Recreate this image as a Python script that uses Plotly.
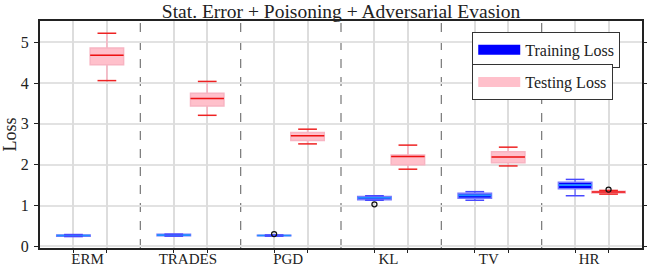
import plotly.graph_objects as go

categories = ["ERM", "TRADES", "PGD", "KL", "TV", "HR"]

train_lf = [0.24, 0.25, 0.25, 1.13, 1.13, 1.24]
train_q1 = [0.25, 0.26, 0.258, 1.14, 1.18, 1.41]
train_med = [0.265, 0.275, 0.265, 1.19, 1.25, 1.50]
train_q3 = [0.28, 0.295, 0.275, 1.22, 1.30, 1.57]
train_uf = [0.29, 0.30, 0.28, 1.24, 1.34, 1.64]
train_out_cat = ["PGD", "KL"]
train_out_val = [0.30, 1.03]

test_lf = [4.06, 3.21, 2.51, 1.89, 1.97, 1.28]
test_q1 = [4.45, 3.44, 2.59, 2.00, 2.05, 1.31]
test_med = [4.68, 3.62, 2.71, 2.20, 2.19, 1.33]
test_q3 = [4.86, 3.75, 2.79, 2.24, 2.32, 1.35]
test_uf = [5.22, 4.04, 2.87, 2.48, 2.43, 1.37]
test_out_cat = ["HR"]
test_out_val = [1.39]

yticks = [0, 1, 2, 3, 4, 5]

FONT = "Liberation Serif"
DARK = "#222222"

n = len(categories)
train_pos = [3 * i for i in range(n)]
test_pos = [3 * i + 1 for i in range(n)]
sep_pos = [3 * i + 2 for i in range(n - 1)]
label_pos = [3 * i + 0.42 for i in range(n)]

BOXW = 1.0
CAPW = 0.56

series = [
    dict(pos=train_pos, lf=train_lf, q1=train_q1, med=train_med, q3=train_q3, uf=train_uf,
         fill="#0000FF", edge="#7878FF", median="#1E90FF", cap="#4848FF",
         out_cat=train_out_cat, out_val=train_out_val),
    dict(pos=test_pos, lf=test_lf, q1=test_q1, med=test_med, q3=test_q3, uf=test_uf,
         fill="#FFC0CB", edge="#F8B4C2", median="#EE1111", cap="#EE2222",
         out_cat=test_out_cat, out_val=test_out_val),
]

fig = go.Figure()

for s in series:
    fig.add_trace(go.Box(
        x=s["pos"], q1=s["q1"], median=s["med"], q3=s["q3"],
        lowerfence=s["lf"], upperfence=s["uf"],
        width=BOXW, whiskerwidth=0, fillcolor=s["fill"],
        line=dict(color=s["edge"], width=1.5),
        boxpoints=False, showlegend=False, hoverinfo="skip",
        xaxis="x2",
    ))
    mx, my = [], []
    for p, m in zip(s["pos"], s["med"]):
        mx += [p - BOXW / 2, p + BOXW / 2, None]
        my += [m, m, None]
    fig.add_trace(go.Scatter(x=mx, y=my, mode="lines", xaxis="x2",
                             line=dict(color=s["median"], width=1.6),
                             showlegend=False, hoverinfo="skip"))
    cx, cy = [], []
    for p, lo, hi in zip(s["pos"], s["lf"], s["uf"]):
        for v in (lo, hi):
            cx += [p - CAPW / 2, p + CAPW / 2, None]
            cy += [v, v, None]
    fig.add_trace(go.Scatter(x=cx, y=cy, mode="lines", xaxis="x2",
                             line=dict(color=s["cap"], width=1.5),
                             showlegend=False, hoverinfo="skip"))
    ox = [s["pos"][categories.index(c)] for c in s["out_cat"]]
    fig.add_trace(go.Scatter(x=ox, y=s["out_val"], mode="markers", xaxis="x2",
                             marker=dict(symbol="circle-open", size=5, color="#111111",
                                         line=dict(width=1.3)),
                             showlegend=False, hoverinfo="skip"))

fig.add_trace(go.Scatter(x=[None], y=[None], mode="lines", name="Training Loss",
                         line=dict(color="#0000FF", width=10), legend="legend"))
fig.add_trace(go.Scatter(x=[None], y=[None], mode="lines", name="Testing Loss",
                         line=dict(color="#FFC0CB", width=10), legend="legend2"))
fig.add_trace(go.Scatter(x=[label_pos[0]], y=[None], mode="markers", xaxis="x",
                         showlegend=False, hoverinfo="skip"))

shapes = []
for p in sep_pos:
    shapes.append(dict(type="line", xref="x2", yref="paper", x0=p, x1=p, y0=0, y1=1,
                       line=dict(color="#777777", width=1.2, dash="dash"), layer="below"))

xr = [-1, 3 * n - 1]

fig.update_layout(
    width=647, height=267,
    margin=dict(l=40, r=5, t=21, b=19, autoexpand=False),
    paper_bgcolor="white", plot_bgcolor="white",
    font=dict(family=FONT, color=DARK),
    title=dict(text="Stat. Error + Poisoning + Adversarial Evasion",
               x=0.5, xref="paper", xanchor="center",
               y=1 - 4 / 267, yref="container", yanchor="top", automargin=False,
               font=dict(size=19.5, family=FONT, color=DARK)),
    shapes=shapes,
    xaxis=dict(range=xr, tickvals=label_pos, ticktext=categories, showgrid=False,
               zeroline=False, ticks="", tickfont=dict(size=15, family=FONT, color=DARK),
               showline=False, anchor="y", automargin=False),
    xaxis2=dict(range=xr, overlaying="x", anchor="y", side="bottom",
                tickvals=train_pos + test_pos, showticklabels=False, automargin=False,
                showgrid=True, gridcolor="#DDDDDD", gridwidth=1.5, zeroline=False,
                ticks="outside", ticklen=3, tickcolor=DARK, tickwidth=1,
                showline=True, linecolor=DARK, linewidth=2, mirror=True),
    yaxis=dict(range=[-0.04, 5.52], tickvals=yticks, showgrid=True, gridcolor="#E2E2E2",
               gridwidth=2, zeroline=False, ticks="outside", ticklen=4, tickcolor=DARK,
               showline=True, linecolor=DARK, linewidth=2, mirror="ticks", automargin=False,
               tickfont=dict(size=16, family=FONT, color=DARK), ticklabelstandoff=2,
               title=dict(text="Loss", font=dict(size=18, family=FONT, color=DARK), standoff=1)),
    legend=dict(x=0.718, y=0.952, xanchor="left", yanchor="top", itemwidth=42,
                bgcolor="white", bordercolor="#333333", borderwidth=1,
                font=dict(size=16, family=FONT, color=DARK)),
    legend2=dict(x=0.718, y=0.81, xanchor="left", yanchor="top", itemwidth=42,
                 bgcolor="white", bordercolor="#333333", borderwidth=1,
                 font=dict(size=16, family=FONT, color=DARK)),
)

fig.write_html(
    "out.html",
    config={"displayModeBar": False},
    post_script="document.body.style.margin='0px';document.body.style.overflow='hidden';",
)
